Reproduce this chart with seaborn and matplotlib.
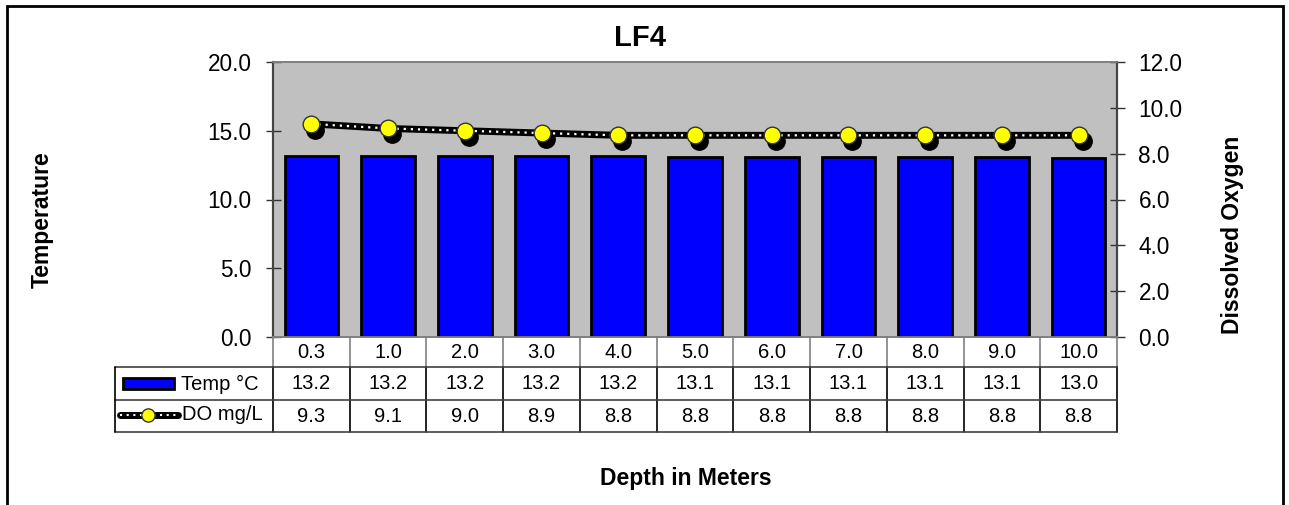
import numpy as np
import pandas as pd
import matplotlib
matplotlib.use("Agg")
import matplotlib.pyplot as plt
import matplotlib.transforms as mtransforms
from matplotlib.lines import Line2D
from matplotlib.patches import Rectangle
import seaborn as sns

# ---- data ----
depths = ["0.3", "1.0", "2.0", "3.0", "4.0", "5.0", "6.0", "7.0", "8.0", "9.0", "10.0"]
temp_c = [13.2, 13.2, 13.2, 13.2, 13.2, 13.1, 13.1, 13.1, 13.1, 13.1, 13.0]
do_mgl = [9.3, 9.1, 9.0, 8.9, 8.8, 8.8, 8.8, 8.8, 8.8, 8.8, 8.8]
title = "LF4"
temp_label = "Temp °C"
do_label = "DO mg/L"

sns.set_theme(style="white")
plt.rcParams["font.family"] = ["Liberation Sans", "DejaVu Sans"]
plt.rcParams["text.color"] = "black"
plt.rcParams["axes.labelcolor"] = "black"
plt.rcParams["ytick.color"] = "black"

W, H = 1289, 505
fig = plt.figure(figsize=(W / 100, H / 100), dpi=100)

def fx(x):
    return x / W

def fy(y):
    return 1 - y / H

L, R, T, B = 273, 1117, 62, 337
ax = fig.add_axes([fx(L), fy(B), fx(R) - fx(L), fy(T) - fy(B)])
ax.set_facecolor("#C0C0C0")

df = pd.DataFrame({"depth": depths, "temp": temp_c, "do": do_mgl})
sns.barplot(data=df, x="depth", y="temp", order=depths, ax=ax, color="#0000FF",
            saturation=1, width=0.7, edgecolor="black", linewidth=2, zorder=3)
ax.set_xlim(-0.5, len(depths) - 0.5)
ax.set_ylim(0, 20)
ax.set_yticks(np.arange(0, 20.1, 5))
ax.set_yticklabels([f"{v:.1f}" for v in np.arange(0, 20.1, 5)])
ax.set_xticks([])
ax.set_xlabel("")
ax.set_ylabel("")

ax2 = ax.twinx()
xpos = np.arange(len(depths))
# shadow markers
shadow = mtransforms.offset_copy(ax2.transData, fig=fig, x=4, y=-6, units="dots")
ax2.plot(xpos, do_mgl, linestyle="none", marker="o", markersize=12.5,
         color="black", transform=shadow, zorder=2)
sns.lineplot(x=xpos, y=do_mgl, ax=ax2, color="black", linewidth=5, zorder=3)
ax2.plot(xpos, do_mgl, color="white", linewidth=1.6, linestyle=(0, (1, 2.2)), zorder=4)
ax2.plot(xpos, do_mgl, linestyle="none", marker="o", markersize=12,
         markerfacecolor="#FFFF00", markeredgecolor="#333333", markeredgewidth=1, zorder=5)
ax2.set_ylim(0, 12)
ax2.set_yticks(np.arange(0, 12.1, 2))
ax2.set_yticklabels([f"{v:.1f}" for v in np.arange(0, 12.1, 2)])
ax2.set_xlim(-0.5, len(depths) - 0.5)
ax2.set_ylabel("")

for a in (ax, ax2):
    a.tick_params(axis="y", direction="inout", length=10.8, width=1, color="#333333",
                  labelsize=16.3, pad=10, labelcolor="black")
    a.grid(False)
    for s in ("left", "right"):
        a.spines[s].set_color("#444444")
        a.spines[s].set_linewidth(1.5)
    a.spines["top"].set_color("#808080")
    a.spines["bottom"].set_color("#808080")
ax.tick_params(axis="y", left=True, right=False)
ax2.tick_params(axis="y", right=True, left=False)

# ---- data table below the plot ----
blend = mtransforms.blended_transform_factory(ax.transData, fig.transFigure)
rows_y = [337, 367, 400, 432]
edges = np.arange(len(depths) + 1) - 0.5
for i, d in enumerate(depths):
    fig.text(i, fy((rows_y[0] + rows_y[1]) / 2), d, transform=blend, ha="center",
             va="center", fontsize=14.5)
    fig.text(i, fy((rows_y[1] + rows_y[2]) / 2), f"{temp_c[i]:.1f}", transform=blend,
             ha="center", va="center", fontsize=14.5)
    fig.text(i, fy((rows_y[2] + rows_y[3]) / 2), f"{do_mgl[i]:.1f}", transform=blend,
             ha="center", va="center", fontsize=14.5)
for e in edges:
    fig.add_artist(Line2D([e, e], [fy(rows_y[0]), fy(rows_y[1])], transform=blend,
                          color="#808080", lw=1.2))
    fig.add_artist(Line2D([e, e], [fy(rows_y[1]), fy(rows_y[3])], transform=blend,
                          color="black", lw=1.2))
for yy in rows_y[1:]:
    fig.add_artist(Line2D([fx(115), fx(R)], [fy(yy), fy(yy)], transform=fig.transFigure,
                          color="#404040", lw=1.2))
fig.add_artist(Line2D([fx(115), fx(115)], [fy(rows_y[1]), fy(rows_y[3])],
                      transform=fig.transFigure, color="black", lw=1.2))
# legend swatches
fig.add_artist(Rectangle((fx(123), fy(389)), fx(174) - fx(123), fy(378) - fy(389),
                         transform=fig.transFigure, facecolor="#0000FF",
                         edgecolor="black", lw=2))
fig.text(fx(181), fy(384), temp_label, ha="left", va="center", fontsize=14.5)
fig.add_artist(Line2D([fx(120), fx(178)], [fy(415), fy(415)], transform=fig.transFigure,
                      color="black", lw=5))
fig.add_artist(Line2D([fx(120), fx(178)], [fy(415), fy(415)], transform=fig.transFigure,
                      color="white", lw=1.5, linestyle=(0, (1, 2.2))))
fig.add_artist(Line2D([fx(148)], [fy(415)], transform=fig.transFigure, marker="o",
                      markersize=9.5, markerfacecolor="#FFFF00",
                      markeredgecolor="#333333", linestyle="none"))
fig.text(fx(182), fy(415), do_label, ha="left", va="center", fontsize=14.5)

# ---- titles and axis labels ----
fig.text(fx(640), fy(38), title, ha="center", va="center", fontsize=21, fontweight="bold")
fig.text(fx(42), fy(220), "Temperature", ha="center", va="center", rotation=90,
         fontsize=16.5, fontweight="bold")
fig.text(fx(1233), fy(235), "Dissolved Oxygen", ha="center", va="center", rotation=90,
         fontsize=16.5, fontweight="bold")
fig.text(fx(686), fy(479), "Depth in Meters", ha="center", va="center",
         fontsize=16.5, fontweight="bold")

# chart border
fig.add_artist(Rectangle((fx(7), -0.05), fx(1283) - fx(7), fy(6) + 0.05,
                         transform=fig.transFigure, fill=False, edgecolor="black", lw=2))

fig.savefig("out.png", dpi=100)
